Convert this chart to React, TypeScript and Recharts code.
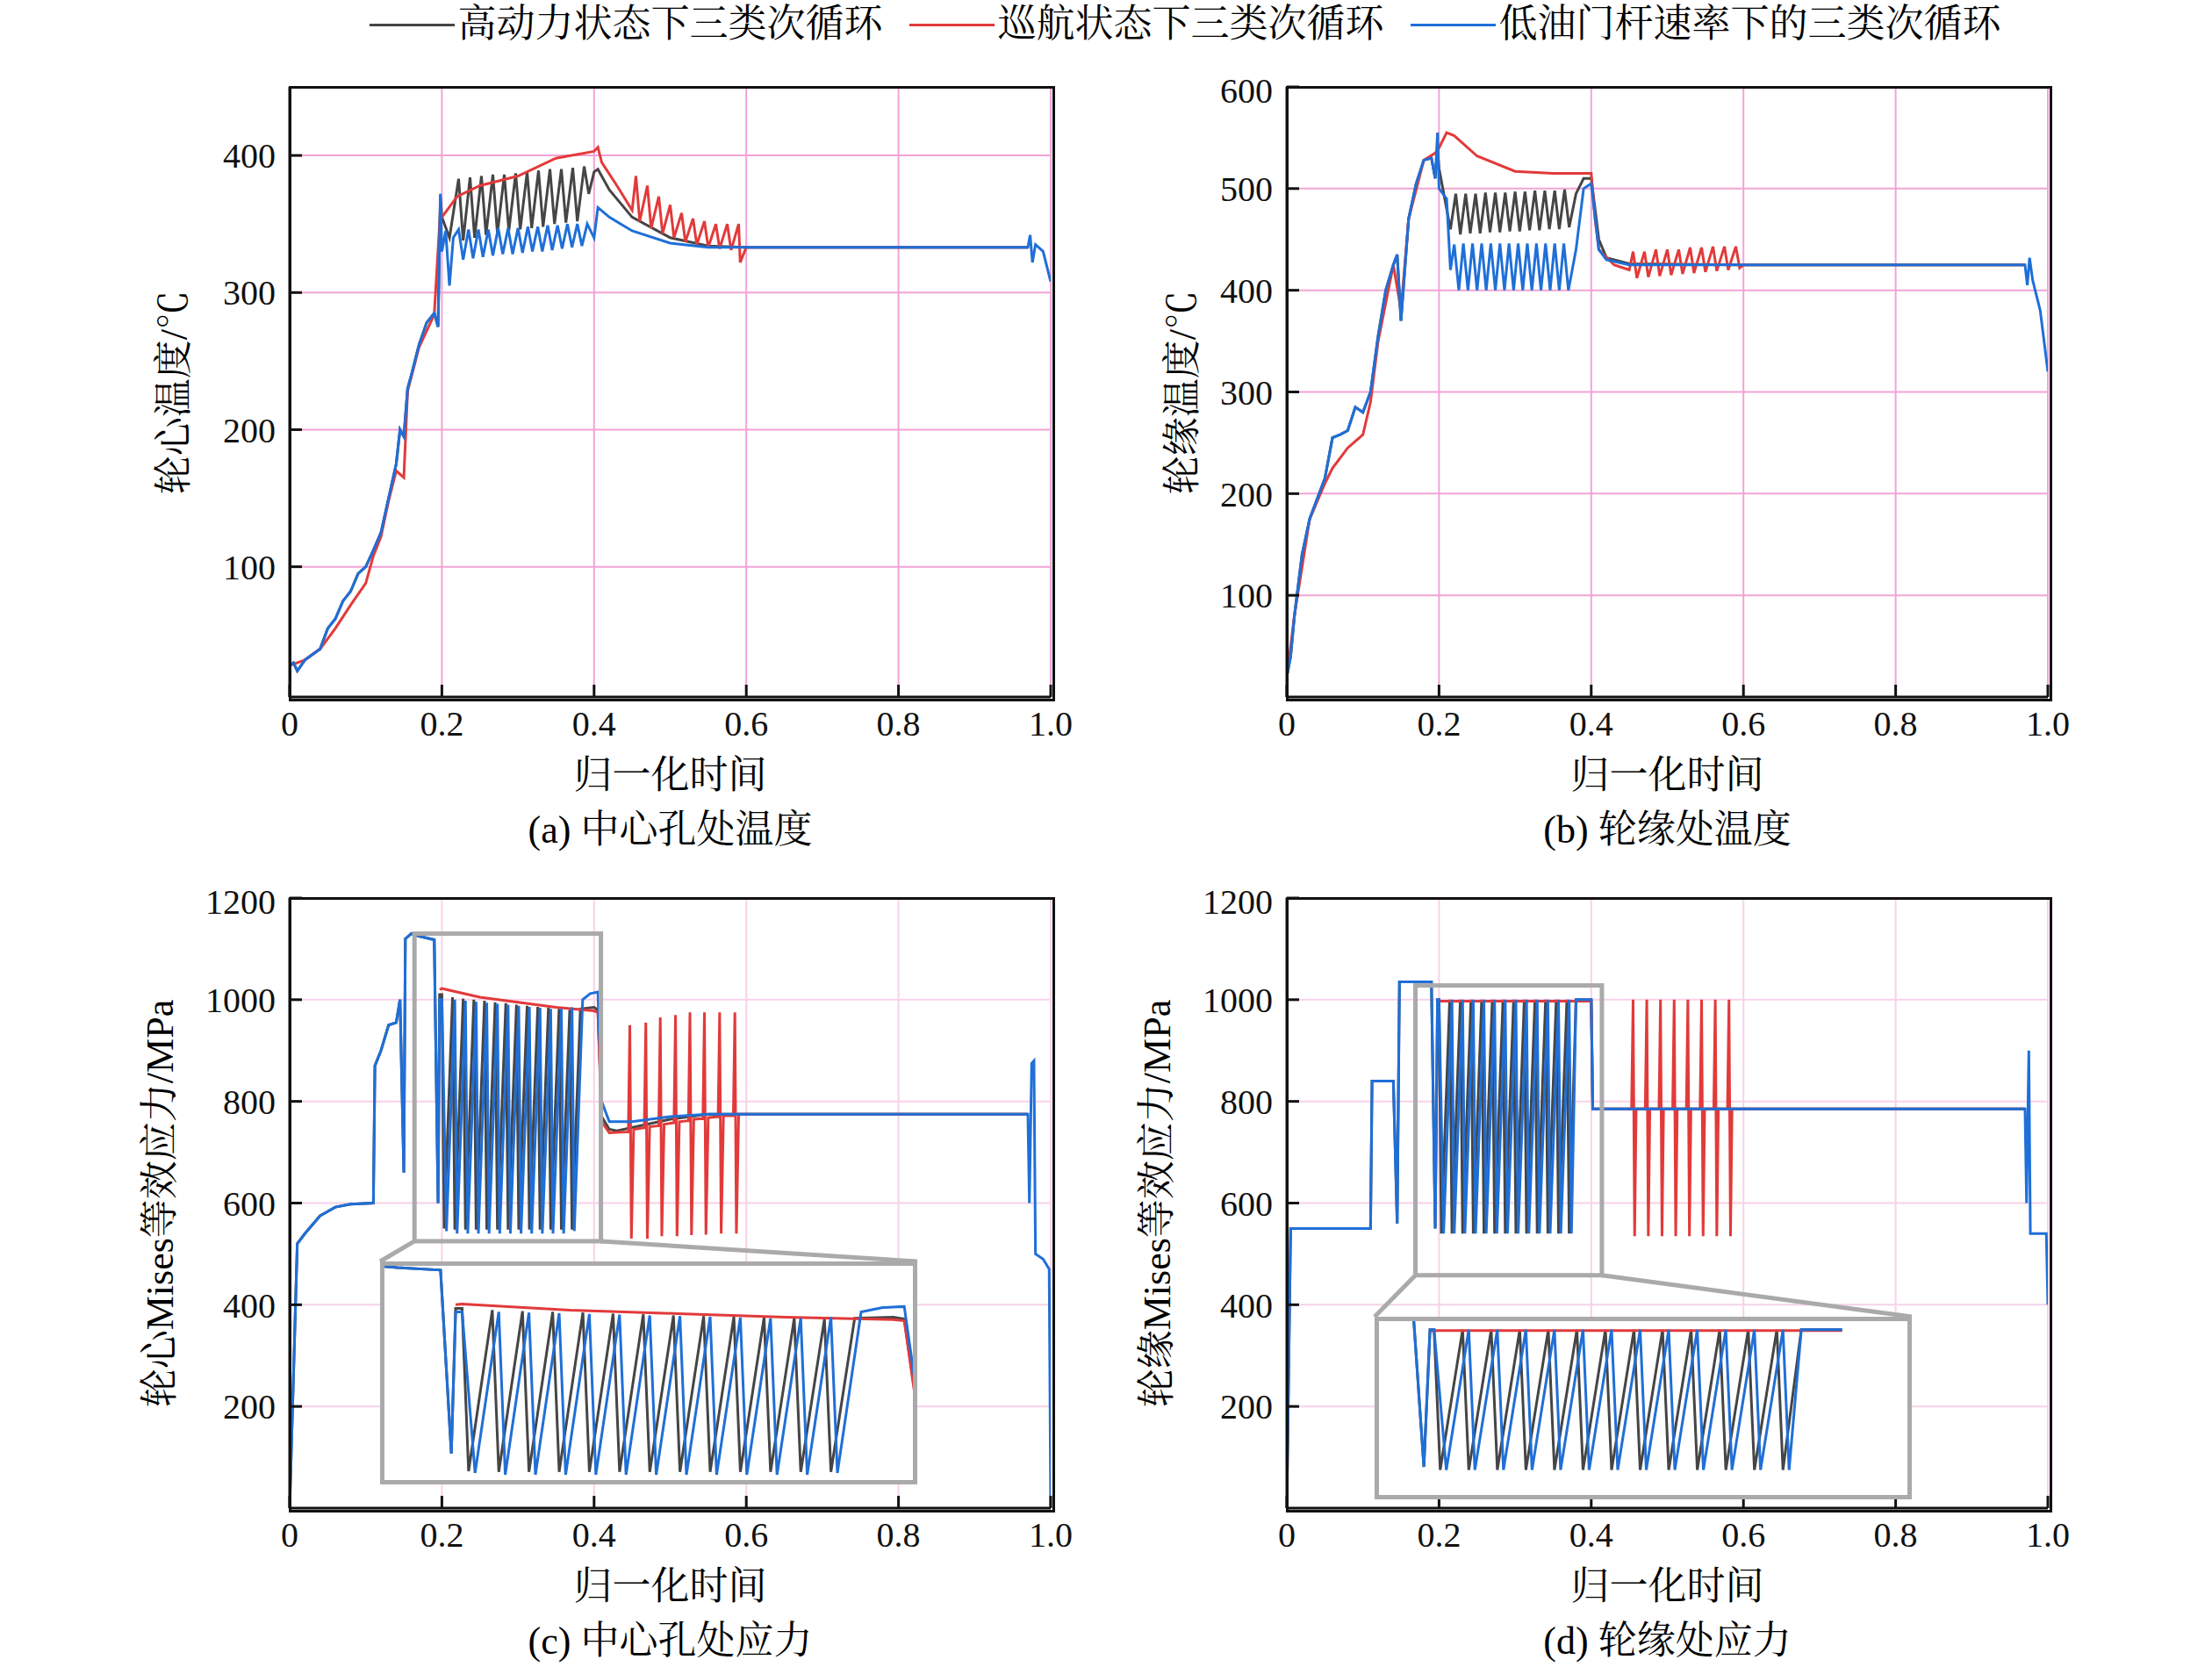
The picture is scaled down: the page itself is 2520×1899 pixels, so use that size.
import React from "react"
import { LineChart, Line, XAxis, YAxis, CartesianGrid } from "recharts"

type P = number[][]
const pts = (a: P) => a.map(([x, y]) => ({ x, y }))

const xTicks = [0, 0.2, 0.4, 0.6, 0.8, 1.0]
const xMinor = [0.1, 0.3, 0.5, 0.7, 0.9]
const tempATicks = [100, 200, 300, 400]
const tempBTicks = [100, 200, 300, 400, 500, 600]
const stressTicks = [200, 400, 600, 800, 1000, 1200]

const legendNames = ["高动力状态下三类次循环", "巡航状态下三类次循环", "低油门杆速率下的三类次循环"]
const colors = ["#454545", "#e23a3a", "#1f6fd8"]

// (a) center temperature
const rampA: P = [[0, 28], [0.005, 30], [0.01, 24], [0.02, 32], [0.03, 36], [0.04, 40], [0.05, 55], [0.06, 62], [0.07, 75], [0.08, 82], [0.09, 95], [0.1, 100], [0.11, 112], [0.12, 125], [0.13, 150], [0.14, 175], [0.145, 200], [0.15, 195], [0.155, 230], [0.16, 240], [0.17, 262], [0.18, 278], [0.19, 285], [0.195, 275]]
const blackA: P = [[0.198, 370], [0.2, 355], [0.21, 340], [0.222, 383], [0.228, 338], [0.237, 384], [0.243, 340], [0.252, 385], [0.258, 342], [0.267, 386], [0.273, 343], [0.282, 386], [0.288, 345], [0.297, 387], [0.303, 346], [0.312, 388], [0.318, 347], [0.327, 389], [0.333, 348], [0.342, 390], [0.348, 350], [0.357, 390], [0.363, 351], [0.372, 391], [0.378, 352], [0.387, 392], [0.393, 372], [0.4, 388], [0.405, 390], [0.42, 375], [0.45, 355], [0.5, 340], [0.55, 334], [0.6, 333], [0.97, 333]]
const redA: P = [[0, 28], [0.02, 32], [0.04, 40], [0.06, 55], [0.08, 72], [0.1, 88], [0.11, 108], [0.12, 122], [0.13, 148], [0.14, 170], [0.15, 165], [0.155, 228], [0.17, 260], [0.19, 284], [0.198, 360], [0.2, 355], [0.22, 370], [0.25, 378], [0.3, 385], [0.35, 398], [0.4, 403], [0.405, 406], [0.41, 395], [0.43, 378], [0.45, 360], [0.455, 385], [0.46, 352], [0.47, 378], [0.475, 347], [0.485, 370], [0.49, 343], [0.5, 364], [0.505, 340], [0.515, 358], [0.52, 337], [0.53, 354], [0.535, 335], [0.545, 352], [0.55, 333], [0.56, 350], [0.565, 332], [0.575, 350], [0.58, 331], [0.59, 350], [0.592, 322], [0.6, 333], [0.97, 333]]
const blueA: P = [[0.198, 372], [0.2, 330], [0.205, 345], [0.21, 305], [0.215, 340], [0.222, 346], [0.228, 324], [0.235, 346], [0.241, 325], [0.248, 346], [0.254, 326], [0.261, 346], [0.267, 327], [0.274, 347], [0.28, 328], [0.287, 347], [0.293, 328], [0.3, 347], [0.306, 329], [0.313, 348], [0.319, 330], [0.326, 348], [0.332, 330], [0.339, 349], [0.345, 331], [0.352, 349], [0.358, 332], [0.365, 350], [0.371, 333], [0.378, 350], [0.384, 334], [0.391, 350], [0.4, 340], [0.405, 362], [0.42, 355], [0.45, 345], [0.5, 336], [0.55, 333], [0.6, 333], [0.97, 333], [0.973, 342], [0.976, 322], [0.98, 335], [0.99, 330], [1.0, 308]]

// (b) rim temperature
const rampB: P = [[0, 20], [0.005, 40], [0.01, 80], [0.02, 140], [0.03, 175], [0.04, 195], [0.05, 215], [0.06, 255], [0.07, 258], [0.08, 262], [0.09, 285], [0.1, 280], [0.11, 300], [0.12, 355], [0.13, 400], [0.14, 425], [0.145, 435], [0.15, 370], [0.155, 420], [0.16, 470], [0.17, 505], [0.18, 528], [0.19, 530], [0.195, 510]]
const blackB: P = [[0.198, 540], [0.2, 520], [0.21, 480], [0.215, 460], [0.222, 495], [0.228, 455], [0.235, 495], [0.241, 456], [0.248, 495], [0.254, 456], [0.261, 496], [0.267, 457], [0.274, 496], [0.28, 457], [0.287, 496], [0.293, 458], [0.3, 497], [0.306, 458], [0.313, 497], [0.319, 459], [0.326, 498], [0.332, 459], [0.339, 498], [0.345, 460], [0.352, 498], [0.358, 460], [0.365, 499], [0.371, 462], [0.38, 495], [0.39, 510], [0.4, 510], [0.41, 450], [0.42, 432], [0.45, 426], [0.6, 425], [0.97, 425]]
const redB: P = [[0, 20], [0.01, 80], [0.03, 175], [0.05, 210], [0.06, 225], [0.08, 245], [0.1, 258], [0.11, 290], [0.12, 350], [0.14, 425], [0.15, 380], [0.16, 470], [0.18, 528], [0.195, 535], [0.2, 540], [0.21, 555], [0.22, 552], [0.25, 532], [0.3, 517], [0.35, 515], [0.4, 515], [0.405, 470], [0.41, 440], [0.43, 425], [0.45, 420], [0.455, 438], [0.46, 412], [0.47, 438], [0.475, 413], [0.485, 440], [0.49, 414], [0.5, 440], [0.505, 415], [0.515, 440], [0.52, 416], [0.53, 442], [0.535, 417], [0.545, 442], [0.55, 418], [0.56, 443], [0.565, 419], [0.575, 443], [0.58, 420], [0.59, 443], [0.595, 422], [0.6, 425], [0.97, 425]]
const blueB: P = [[0.198, 555], [0.2, 500], [0.21, 490], [0.215, 420], [0.22, 445], [0.226, 400], [0.232, 446], [0.238, 400], [0.244, 446], [0.25, 400], [0.256, 446], [0.262, 400], [0.268, 446], [0.274, 400], [0.28, 446], [0.286, 400], [0.292, 446], [0.298, 400], [0.304, 446], [0.31, 400], [0.316, 446], [0.322, 400], [0.328, 446], [0.334, 400], [0.34, 446], [0.346, 400], [0.352, 446], [0.358, 400], [0.364, 446], [0.37, 400], [0.38, 440], [0.39, 500], [0.4, 505], [0.41, 440], [0.42, 430], [0.45, 425], [0.6, 425], [0.97, 425], [0.973, 405], [0.976, 432], [0.98, 410], [0.99, 380], [1.0, 320]]

// (c) center stress
const rampC: P = [[0, 0], [0.01, 520], [0.02, 540], [0.04, 575], [0.06, 592], [0.08, 598], [0.11, 600], [0.112, 870], [0.12, 900], [0.13, 950], [0.14, 955], [0.145, 1000], [0.15, 660], [0.152, 1120], [0.16, 1130], [0.17, 1125], [0.19, 1118], [0.195, 600]]
const blackC: P = [[0.197, 1010], [0.2, 1010], [0.203, 550], [0.214, 1005], [0.217, 548], [0.228, 1002], [0.231, 548], [0.242, 1000], [0.245, 548], [0.256, 998], [0.259, 548], [0.27, 995], [0.273, 548], [0.284, 993], [0.287, 548], [0.298, 990], [0.301, 548], [0.312, 988], [0.315, 548], [0.326, 986], [0.329, 548], [0.34, 984], [0.343, 548], [0.354, 982], [0.357, 548], [0.368, 980], [0.371, 548], [0.382, 982], [0.4, 985], [0.405, 980], [0.41, 770], [0.42, 745], [0.43, 742], [0.5, 765], [0.55, 775], [0.97, 775]]
const redC: P = [[0.197, 1020], [0.2, 1022], [0.25, 1005], [0.3, 995], [0.35, 985], [0.4, 978], [0.405, 975], [0.41, 760], [0.42, 738], [0.445, 740], [0.447, 950], [0.449, 530], [0.452, 745], [0.466, 748], [0.468, 955], [0.47, 530], [0.473, 750], [0.485, 752], [0.487, 965], [0.489, 535], [0.492, 755], [0.505, 758], [0.507, 970], [0.509, 535], [0.512, 760], [0.524, 762], [0.526, 975], [0.528, 537], [0.531, 765], [0.543, 766], [0.545, 975], [0.547, 538], [0.55, 768], [0.563, 770], [0.565, 975], [0.567, 540], [0.57, 772], [0.583, 772], [0.585, 975], [0.587, 540], [0.59, 775], [0.6, 775], [0.97, 775]]
const blueC: P = [[0.197, 1000], [0.2, 1000], [0.206, 545], [0.217, 1000], [0.22, 540], [0.231, 998], [0.234, 540], [0.245, 996], [0.248, 540], [0.259, 994], [0.262, 540], [0.273, 992], [0.276, 540], [0.287, 990], [0.29, 540], [0.301, 988], [0.304, 540], [0.315, 986], [0.318, 540], [0.329, 984], [0.332, 540], [0.343, 982], [0.346, 540], [0.357, 982], [0.36, 540], [0.371, 985], [0.374, 545], [0.385, 1000], [0.395, 1012], [0.405, 1015], [0.41, 800], [0.42, 760], [0.45, 760], [0.5, 770], [0.55, 775], [0.97, 775], [0.972, 600], [0.975, 875], [0.978, 880], [0.98, 500], [0.99, 490], [0.998, 470], [1.0, 0]]

// (d) rim stress
const rampD: P = [[0, 0], [0.005, 550], [0.02, 550], [0.11, 550], [0.112, 840], [0.14, 840], [0.145, 560], [0.148, 1035], [0.19, 1035], [0.195, 550]]
const blackD: P = [[0.198, 1000], [0.2, 1000], [0.203, 540], [0.214, 1000], [0.217, 540], [0.228, 1000], [0.231, 540], [0.242, 1000], [0.245, 540], [0.256, 1000], [0.259, 540], [0.27, 1000], [0.273, 540], [0.284, 1000], [0.287, 540], [0.298, 1000], [0.301, 540], [0.312, 1000], [0.315, 540], [0.326, 1000], [0.329, 540], [0.34, 1000], [0.343, 540], [0.354, 1000], [0.357, 540], [0.368, 1000], [0.371, 540], [0.38, 1000], [0.4, 1000], [0.402, 785], [0.97, 785]]
const redD: P = [[0.198, 995], [0.2, 997], [0.3, 997], [0.4, 997], [0.402, 785], [0.453, 785], [0.455, 1000], [0.457, 535], [0.459, 785], [0.471, 785], [0.473, 1000], [0.475, 535], [0.477, 785], [0.489, 785], [0.491, 1000], [0.493, 535], [0.495, 785], [0.507, 785], [0.509, 1000], [0.511, 535], [0.513, 785], [0.525, 785], [0.527, 1000], [0.529, 535], [0.531, 785], [0.543, 785], [0.545, 1000], [0.547, 535], [0.549, 785], [0.561, 785], [0.563, 1000], [0.565, 535], [0.567, 785], [0.579, 785], [0.581, 1000], [0.583, 535], [0.585, 785], [0.97, 785]]
const blueD: P = [[0.198, 1000], [0.2, 1000], [0.206, 540], [0.217, 1000], [0.22, 540], [0.231, 1000], [0.234, 540], [0.245, 1000], [0.248, 540], [0.259, 1000], [0.262, 540], [0.273, 1000], [0.276, 540], [0.287, 1000], [0.29, 540], [0.301, 1000], [0.304, 540], [0.315, 1000], [0.318, 540], [0.329, 1000], [0.332, 540], [0.343, 1000], [0.346, 540], [0.357, 1000], [0.36, 540], [0.371, 1000], [0.374, 540], [0.38, 1000], [0.4, 1000], [0.402, 785], [0.97, 785], [0.972, 600], [0.975, 900], [0.977, 540], [0.99, 540], [0.998, 540], [1.0, 400]]

const seriesA = [pts([...rampA, ...blackA]), pts(redA), pts([...rampA, ...blueA])]
const seriesB = [pts([...rampB, ...blackB]), pts(redB), pts([...rampB, ...blueB])]
const seriesC = [pts([...rampC, ...blackC]), pts(redC), pts([...rampC, ...blueC])]
const seriesD = [pts([...rampD, ...blackD]), pts(redD), pts([...rampD, ...blueD])]

const FONT = "'Liberation Serif', 'Noto Serif CJK SC', 'Noto Sans CJK SC', serif"
const PW = 867
const PH = 695
const ML = 140
const MB = 80

type Zoom = { x: [number, number]; y: [number, number]; ix: [number, number]; iy: [number, number]; cut: number; box: [number, number, number, number] }

function Panel(props: {
  left: number; top: number; domain: [number, number]; ticks: number[]; data: { x: number; y: number }[][]
  grid: string; ylabel: string; ylabelX: number; caption: string; zoom?: Zoom
}) {
  const { left, top, domain, ticks, data, grid, ylabel, ylabelX, caption, zoom } = props
  const tickStyle = { fontSize: 40, fill: "#111", fontFamily: FONT }
  const minorY: number[] = []
  for (let i = 0; i < ticks.length; i++) minorY.push(ticks[i] - (ticks[1] - ticks[0]) / 2)
  const toPx = (x: number, y: number) => [
    left + x * PW,
    top + ((domain[1] - y) / (domain[1] - domain[0])) * PH,
  ]
  return (
    <>
      <div style={{ position: "absolute", left: left - ML, top: top - 20 }}>
        <LineChart width={PW + ML + 40} height={PH + 20 + MB} margin={{ top: 20, right: 40, left: 0, bottom: 0 }}>
          <CartesianGrid xAxisId="b" yAxisId="l" stroke={grid} strokeWidth={2} />
          <XAxis xAxisId="b" type="number" dataKey="x" domain={[0, 1]} ticks={xTicks} allowDataOverflow
            tickFormatter={(v) => (v === 0 ? "0" : v.toFixed(1))} tick={tickStyle} height={MB}
            stroke="#111" strokeWidth={3} tickSize={-14} tickMargin={30} />
          <XAxis xAxisId="m" type="number" dataKey="x" domain={[0, 1]} ticks={xMinor} height={0}
            tickFormatter={() => ""} stroke="#111" strokeWidth={2} axisLine={false} tickSize={-8} />
          <XAxis xAxisId="t" orientation="top" type="number" dataKey="x" domain={[0, 1]} ticks={xTicks} height={0}
            tickFormatter={() => ""} stroke="#111" strokeWidth={2} tickSize={-14} />
          <YAxis yAxisId="l" type="number" domain={domain} ticks={ticks} allowDataOverflow width={ML}
            tick={tickStyle} stroke="#111" strokeWidth={3} tickSize={-14} tickMargin={30} />
          <YAxis yAxisId="m" type="number" domain={domain} ticks={minorY} width={0} allowDataOverflow
            tickFormatter={() => ""} stroke="#111" strokeWidth={2} axisLine={false} tickSize={-8} />
          <YAxis yAxisId="r" orientation="right" type="number" domain={domain} ticks={ticks} width={0} allowDataOverflow
            tickFormatter={() => ""} stroke="#111" strokeWidth={2} tickSize={-14} />
          {data.map((d, i) => (
            <Line key={i} xAxisId="b" yAxisId="l" data={d} dataKey="y" stroke={colors[i]} strokeWidth={3}
              dot={false} isAnimationActive={false} type="linear" />
          ))}
        </LineChart>
      </div>
      <div style={{ position: "absolute", left: left - 1.5, top: top - 1.5, width: PW, height: PH, border: "3px solid #111", pointerEvents: "none" }} />
      {zoom && (() => {
        const [x1, y1] = toPx(zoom.x[0], zoom.y[1])
        const [x2, y2] = toPx(zoom.x[1], zoom.y[0])
        const [bx, by, bw, bh] = zoom.box
        return (
          <>
            <svg style={{ position: "absolute", left: 0, top: 0, pointerEvents: "none" }} width={2520} height={1899}>
              <rect x={x1} y={y1} width={x2 - x1} height={y2 - y1} fill="none" stroke="#aaa" strokeWidth={5} />
              <line x1={x1} y1={y2} x2={bx} y2={by} stroke="#aaa" strokeWidth={5} />
              <line x1={x2} y1={y2} x2={bx + bw} y2={by} stroke="#aaa" strokeWidth={5} />
            </svg>
            <div style={{ position: "absolute", left: bx, top: by, width: bw, height: bh, background: "#fff", border: "5px solid #aaa", boxSizing: "border-box" }}>
              <LineChart width={bw - 10} height={bh - 10} margin={{ top: 0, right: 0, left: 0, bottom: 0 }}>
                <XAxis type="number" dataKey="x" domain={zoom.ix} allowDataOverflow hide />
                <YAxis type="number" domain={zoom.iy} allowDataOverflow hide />
                {data.map((d, i) => (
                  <Line key={i} data={d.filter((p) => p.x <= zoom.cut)} dataKey="y" stroke={colors[i]} strokeWidth={3}
                    dot={false} isAnimationActive={false} type="linear" />
                ))}
              </LineChart>
            </div>
          </>
        )
      })()}
      <div style={{ position: "absolute", left, width: PW, top: top + PH + 68, lineHeight: 1, textAlign: "center", fontFamily: FONT, fontSize: 44 }}>归一化时间</div>
      <div style={{ position: "absolute", left, width: PW, top: top + PH + 130, lineHeight: 1, textAlign: "center", fontFamily: FONT, fontSize: 44 }}>{caption}</div>
      <div style={{ position: "absolute", left: ylabelX - 400, top: top + PH / 2 - 22, width: 800, lineHeight: 1, textAlign: "center", transform: "rotate(-90deg)", fontFamily: FONT, fontSize: 44 }}>{ylabel}</div>
    </>
  )
}

export default function App() {
  return (
    <div style={{ position: "absolute", left: 0, top: 0, width: 2520, height: 1899, background: "#fff", overflow: "hidden" }}>
      <div style={{ position: "absolute", top: 4, left: 90, width: 2520, display: "flex", justifyContent: "center", gap: 30, fontFamily: FONT, fontSize: 44, lineHeight: 1.1 }}>
        {legendNames.map((n, i) => (
          <div key={n} style={{ display: "flex", alignItems: "center" }}>
            <div style={{ width: 97, height: 3, background: colors[i], marginRight: 4 }} />
            <span>{n}</span>
          </div>
        ))}
      </div>
      <Panel left={330} top={99} domain={[5, 450]} ticks={tempATicks} data={seriesA} grid="#f3a3d6"
        ylabel="轮心温度/℃" ylabelX={199} caption="(a) 中心孔处温度" />
      <Panel left={1466} top={99} domain={[0, 600]} ticks={tempBTicks} data={seriesB} grid="#f3a3d6"
        ylabel="轮缘温度/℃" ylabelX={1348} caption="(b) 轮缘处温度" />
      <Panel left={330} top={1023} domain={[0, 1200]} ticks={stressTicks} data={seriesC} grid="#f7d2ea"
        ylabel="轮心Mises等效应力/MPa" ylabelX={183} caption="(c) 中心孔处应力"
        zoom={{ x: [0.164, 0.409], y: [525, 1130], ix: [0.164, 0.409], iy: [525, 1130], cut: 1, box: [433, 1437, 612, 254] }} />
      <Panel left={1466} top={1023} domain={[0, 1200]} ticks={stressTicks} data={seriesD} grid="#f7d2ea"
        ylabel="轮缘Mises等效应力/MPa" ylabelX={1319} caption="(d) 轮缘处应力"
        zoom={{ x: [0.169, 0.414], y: [458, 1028], ix: [0.173, 0.432], iy: [458, 1028], cut: 0.4, box: [1566, 1500, 612, 208] }} />
    </div>
  )
}
